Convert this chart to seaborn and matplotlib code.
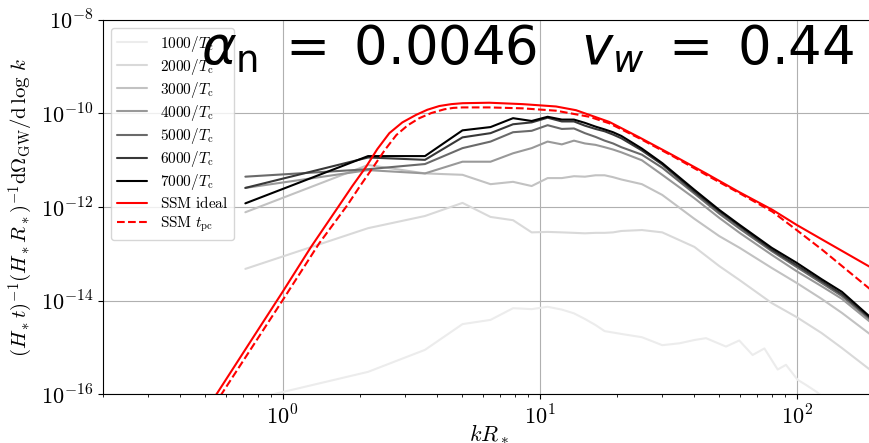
import numpy as np
import matplotlib
matplotlib.use("Agg")
import matplotlib.pyplot as plt
import matplotlib.ticker as mticker
import seaborn as sns

k_sim = [0.716, 2.15, 3.58, 5.01, 6.44, 7.88, 9.31, 10.74, 12.2, 13.6, 15.0, 16.5,
         17.9, 19.3, 20.8, 25, 30, 40, 50, 60, 80, 100, 125, 150, 200]

# log10 of the spectrum for each output time
log_2000 = [-13.32, -12.45, -12.19, -11.91, -12.21, -12.28, -12.54, -12.53, -12.54, -12.55,
            -12.56, -12.55, -12.55, -12.54, -12.51, -12.49, -12.54, -12.85, -13.26, -13.56,
            -14.05, -14.35, -14.69, -15.01, -15.54]
log_3000 = [-12.11, -11.10, -11.28, -11.31, -11.51, -11.46, -11.55, -11.38, -11.38, -11.34,
            -11.35, -11.32, -11.32, -11.36, -11.41, -11.51, -11.74, -12.25, -12.62, -12.87,
            -13.30, -13.62, -13.96, -14.26, -14.78]
log_4000 = [-11.59, -11.21, -11.28, -11.03, -11.03, -10.85, -10.74, -10.60, -10.66, -10.58,
            -10.64, -10.67, -10.72, -10.77, -10.83, -11.00, -11.31, -11.81, -12.23, -12.55,
            -13.02, -13.37, -13.69, -13.96, -14.52]
log_5000 = [-11.35, -11.19, -11.08, -10.74, -10.60, -10.40, -10.37, -10.25, -10.33, -10.32,
            -10.42, -10.50, -10.58, -10.64, -10.72, -10.88, -11.16, -11.71, -12.14, -12.46,
            -12.94, -13.28, -13.62, -13.90, -14.47]
log_6000 = [-11.59, -10.94, -10.99, -10.51, -10.42, -10.23, -10.19, -10.09, -10.17, -10.17,
            -10.26, -10.33, -10.38, -10.45, -10.53, -10.79, -11.09, -11.67, -12.09, -12.41,
            -12.91, -13.24, -13.58, -13.86, -14.44]
log_7000 = [-11.92, -10.91, -10.91, -10.36, -10.29, -10.10, -10.16, -10.07, -10.13, -10.13,
            -10.20, -10.28, -10.34, -10.40, -10.48, -10.75, -11.06, -11.63, -12.06, -12.38,
            -12.87, -13.19, -13.54, -13.81, -14.42]

# earliest time is noisier, so it gets its own denser sampling
k_1000 = [0.716, 2.15, 3.58, 5.01, 6.44, 7.88, 9.31, 10.74, 12.2, 13.6, 15.0, 16.5, 17.9,
          19.3, 20.8, 25, 30, 35.0, 40.0, 44.4, 53.1, 59.8, 67.4, 74.9, 84.4, 90.9, 100.9,
          108.8, 119.0, 134.1]
log_1000 = [-16.14, -15.52, -15.05, -14.50, -14.41, -14.16, -14.18, -14.13, -14.19, -14.27,
            -14.39, -14.52, -14.65, -14.68, -14.71, -14.78, -14.95, -14.91, -14.84, -14.80,
            -14.98, -14.85, -15.16, -15.02, -15.47, -15.37, -15.69, -15.80, -15.94, -16.16]

# sound shell model curves
k_ideal = [0.5186, 0.5586, 0.742, 1.0, 1.29, 1.662, 1.867, 2.111, 2.336, 2.601, 2.923,
           3.304, 3.656, 4.072, 4.533, 5.015, 6.373, 8.589, 11.58, 13.86, 18.67, 24.43,
           32.92, 44.4, 59.8, 80.6, 100, 126.3, 191.8, 200]
log_ideal = [-16.23, -15.96, -14.91, -13.81, -12.85, -11.96, -11.55, -11.14, -10.76, -10.42,
             -10.19, -10.03, -9.92, -9.84, -9.80, -9.78, -9.77, -9.80, -9.85, -9.93, -10.18,
             -10.51, -10.89, -11.28, -11.68, -12.06, -12.38, -12.70, -13.27, -13.32]
k_tpc = [0.542, 0.584, 1.0, 1.389, 1.785, 2.006, 2.254, 2.498, 2.770, 3.071, 3.403, 3.789,
         4.258, 4.616, 5.015, 6.373, 8.589, 11.58, 15.61, 18.67, 24.43, 32.92, 44.4, 59.8,
         80.6, 100, 126.3, 191.8, 200]
log_tpc = [-16.23, -15.96, -13.99, -12.77, -11.96, -11.54, -11.14, -10.78, -10.46, -10.25,
           -10.10, -9.99, -9.91, -9.88, -9.87, -9.87, -9.89, -9.94, -10.07, -10.21, -10.53,
           -10.91, -11.31, -11.70, -12.10, -12.49, -12.92, -13.74, -13.80]

times = ["1000", "2000", "3000", "4000", "5000", "6000", "7000"]
grays = ["#ececec", "#d9d9d9", "#c2c2c2", "#999999", "#6a6a6a", "#383838", "#000000"]

sns.set_style("ticks")
plt.rcParams["font.family"] = ["DejaVu Sans"]
plt.rcParams["mathtext.fontset"] = "cm"
for key in ["text.color", "axes.labelcolor", "xtick.color", "ytick.color"]:
    plt.rcParams[key] = "black"

fig = plt.figure(figsize=(8.7, 4.43), dpi=100)
ax = fig.add_axes([0.1184, 0.1099, 0.8862, 0.8452])
ax.set_xscale("log")
ax.set_yscale("log")

series = [(k_1000, log_1000)] + [(k_sim, v) for v in
                                 [log_2000, log_3000, log_4000, log_5000, log_6000, log_7000]]
for (kk, vals), t, c in zip(series, times, grays):
    sns.lineplot(x=kk, y=10.0 ** np.array(vals), ax=ax, color=c, lw=1.5,
                 label=r"$%s/T_\mathrm{c}$" % t)

sns.lineplot(x=k_ideal, y=10.0 ** np.array(log_ideal), ax=ax, color="red", lw=1.5,
             label=r"$\mathrm{SSM\ ideal}$")
sns.lineplot(x=k_tpc, y=10.0 ** np.array(log_tpc), ax=ax, color="red", lw=1.5,
             linestyle="--", label=r"$\mathrm{SSM}\ t_\mathrm{pc}$")

ax.set_xlim(0.2, 200)
ax.set_ylim(1e-16, 1e-8)

fmt = mticker.FuncFormatter(lambda v, p: r"$10^{%d}$" % round(np.log10(v)))
ax.yaxis.set_major_locator(mticker.LogLocator(base=100))
ax.yaxis.set_minor_locator(mticker.NullLocator())
ax.yaxis.set_major_formatter(fmt)
ax.xaxis.set_major_locator(mticker.LogLocator(base=10))
ax.xaxis.set_minor_locator(mticker.LogLocator(base=10, subs=np.arange(2, 10)))
ax.xaxis.set_major_formatter(fmt)
ax.xaxis.set_minor_formatter(mticker.NullFormatter())
ax.tick_params(labelsize=16, direction="out", length=3.5, width=0.8)
ax.tick_params(which="minor", length=2, width=0.6)

ax.grid(True, which="major", color="#b0b0b0", lw=0.8)
for s in ax.spines.values():
    s.set_color("black")
    s.set_linewidth(0.8)

ax.set_xlabel(r"$kR_*$", fontsize=16, labelpad=-4)
ax.set_ylabel(r"$(H_*t)^{-1}(H_*R_*)^{-1}\mathrm{d}\Omega_\mathrm{GW}/\mathrm{d}\,\log\,k$",
              fontsize=15)

ax.legend(loc="upper left", fontsize=11, handlelength=2.0, labelspacing=0.2,
          framealpha=0.8, edgecolor="#cccccc", borderaxespad=0.5)

# big parameter label, drawn over the legend like in the original
ax.text(0.550, 0.882, r"$\alpha_\mathrm{n}\;=\;0.0046\;\;\;v_w\;=\;0.44$",
        transform=ax.transAxes, ha="center", va="baseline", fontsize=38,
        math_fontfamily="dejavusans", zorder=10)

fig.savefig("out.png", dpi=100)
